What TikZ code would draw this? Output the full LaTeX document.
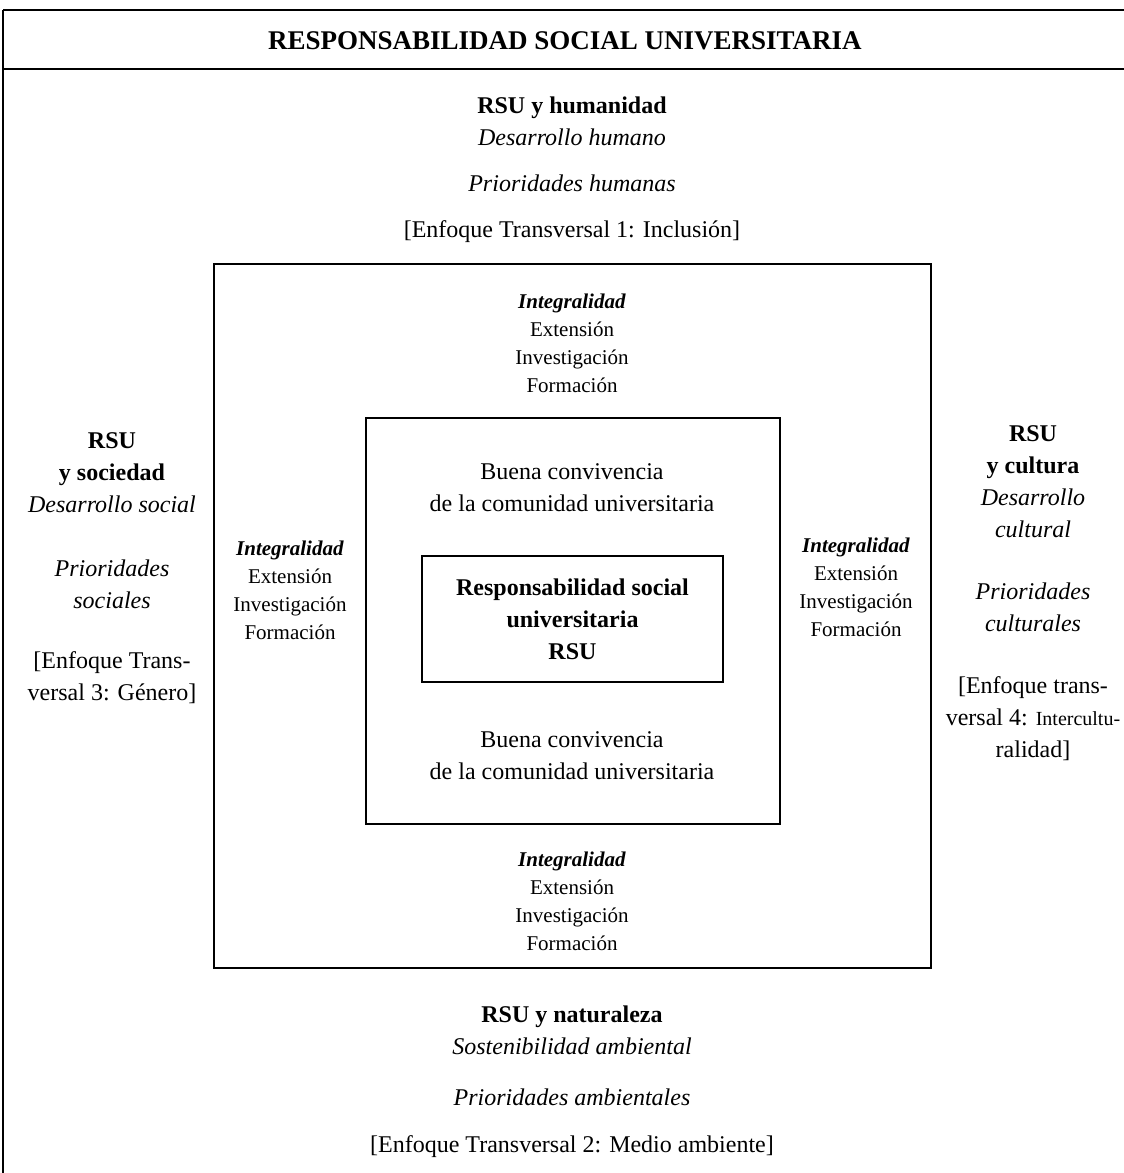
\documentclass[tikz,border=0pt]{standalone}
\usepackage{fontspec}
\setmainfont{Liberation Serif}

\begin{document}
\begin{tikzpicture}[x=0.5pt,y=-0.5pt,
  every node/.style={align=center,inner sep=0pt},%
  t/.style={font=\fontsize{12}{16}\selectfont},%
  s/.style={font=\fontsize{10.5}{14}\selectfont},%
  bx/.style={draw,line width=.8pt},%
  fr/.style={line width=.8pt},%
  ]
  \useasboundingbox (0,0) rectangle (1124,1173);
  % marco y titulo
  \coordinate (tl) at (3,10);
  \coordinate (tr) at (1124,10);
  \coordinate (ml) at (3,69);
  \coordinate (mr) at (1124,69);
  \coordinate (bl) at (3,1173);
  \draw [fr] (tl) -- (tr);
  \draw [fr] (ml) -- (mr);
  \draw [fr] (tl) -- (bl);
  \node (title) at (565,41) [font=\fontsize{13.5}{16}\selectfont]
  {\textbf{RESPONSABILIDAD SOCIAL UNIVERSITARIA}};

  % cuadros
  \node (ext) at (572.5,616) [bx,minimum width=358.5pt,minimum height=352pt] {};
  \node (mid) at (573,621) [bx,minimum width=207pt,minimum height=203pt] {};
  \node (rsu) at (572.5,619) [bx,t,minimum width=150.5pt,minimum height=63pt]
  {\textbf{Responsabilidad social}\\\textbf{universitaria}\\\textbf{RSU}};

  % arriba
  \node (hum) at (572,121) [t] {\textbf{RSU y humanidad}\\\textit{Desarrollo humano}};
  \node (humP) at (572,183) [t] {\textit{Prioridades humanas}};
  \node (humE) at (572,232) [t] {[Enfoque Transversal 1: Inclusión]};

  % abajo
  \node (nat) at (572,1030) [t] {\textbf{RSU y naturaleza}\\\textit{Sostenibilidad ambiental}};
  \node (natP) at (572,1097) [t] {\textit{Prioridades ambientales}};
  \node (natE) at (572,1147) [t] {[Enfoque Transversal 2: Medio ambiente]};

  % izquierda
  \node (soc) at (112,473) [t] {\textbf{RSU}\\\textbf{y sociedad}\\\textit{Desarrollo social}};
  \node (socP) at (112,584) [t] {\textit{Prioridades}\\\textit{sociales}};
  \node (socE) at (112,678) [t] {[Enfoque Trans-\\versal 3: Género]};

  % derecha
  \node (cul) at (1033,482) [t] {\textbf{RSU}\\\textbf{y cultura}\\\textit{Desarrollo}\\\textit{cultural}};
  \node (culP) at (1033,607) [t] {\textit{Prioridades}\\\textit{culturales}};
  \node (culE) at (1033,719) [t]
  {[Enfoque trans-\\versal 4: {\fontsize{10}{16}\selectfont Intercultu-}\\ralidad]};

  % integralidad
  \node (intT) at (572,343) [s] {\textbf{\textit{Integralidad}}\\Extensión\\Investigación\\Formación};
  \node (intB) at (572,901) [s] {\textbf{\textit{Integralidad}}\\Extensión\\Investigación\\Formación};
  \node (intL) at (290,590) [s] {\textbf{\textit{Integralidad}}\\Extensión\\Investigación\\Formación};
  \node (intR) at (856,587) [s] {\textbf{\textit{Integralidad}}\\Extensión\\Investigación\\Formación};

  % convivencia
  \node (conU) at (572,488) [t] {Buena convivencia\\de la comunidad universitaria};
  \node (conD) at (572,756) [t] {Buena convivencia\\de la comunidad universitaria};
\end{tikzpicture}
\end{document}
